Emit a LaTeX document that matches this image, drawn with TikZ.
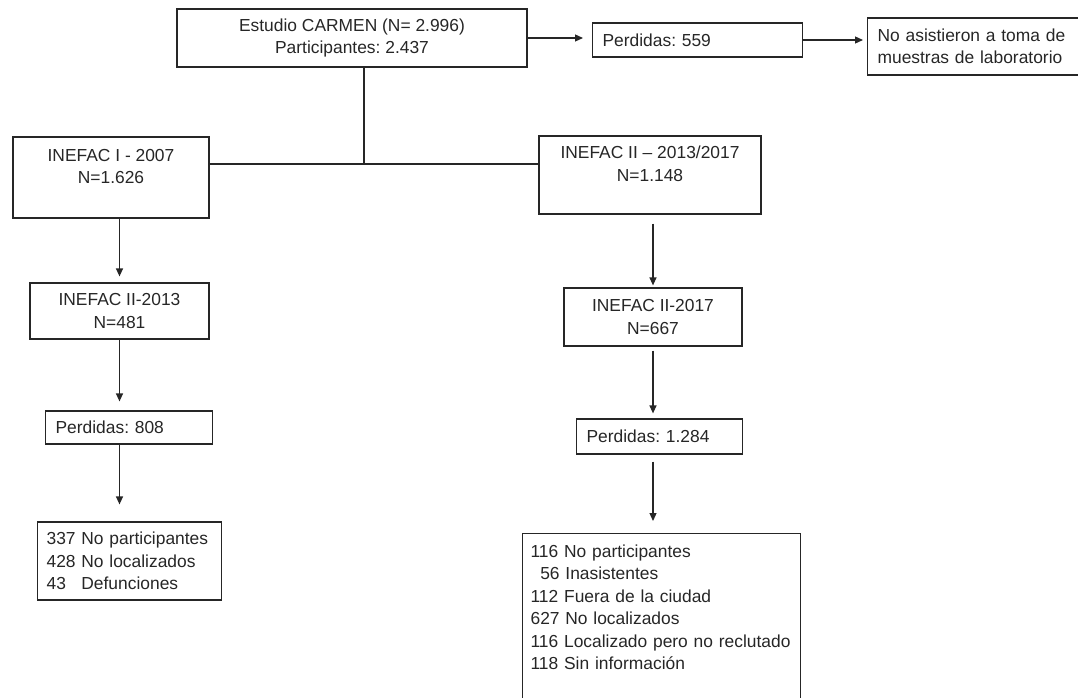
\documentclass[tikz,border=0pt]{standalone}
\usepackage{fontspec}
\setmainfont{Liberation Sans}
\usetikzlibrary{arrows.meta}

\begin{document}
\begin{tikzpicture}[x=1pt, y=-1pt, ->, >={Triangle[length=8pt,width=7pt]},
    line width=1.2pt, color=black!85,
    box/.style={draw, rectangle, inner sep=0pt, align=center,
      font=\fontsize{17.4}{22.5}\selectfont\frenchspacing},
    lbox/.style={box, anchor=west, align=left, inner xsep=10pt}]
  \useasboundingbox (0,0) rectangle (1078,698);
  \clip (0,0) rectangle (1078,698);

  \node[box, minimum width=350pt, minimum height=58pt] (carmen) at (352,38)
    {Estudio CARMEN (N= 2.996)\\Participantes: 2.437};
  \node[lbox, text width=190pt, minimum height=34pt] (perd559) at (592,40) {Perdidas: 559};
  \node[lbox, text width=230pt, minimum height=57pt] (noasis) at (867,46.5)
    {No asistieron a toma de\\muestras de laboratorio};

  \node[box, minimum width=196pt, minimum height=81pt] (inefac1) at (111,177.5)
    {INEFAC I - 2007\\N=1.626\\\mbox{}};
  \node[box, minimum width=222pt, minimum height=78pt] (inefac2) at (650,175)
    {INEFAC II – 2013/2017\\N=1.148\\\mbox{}};

  \node[box, minimum width=179pt, minimum height=56pt] (inef2013) at (119.5,311) {INEFAC II-2013\\N=481};
  \node[box, minimum width=178pt, minimum height=58pt] (inef2017) at (653,317) {INEFAC II-2017\\N=667};

  \node[lbox, text width=147pt, minimum height=33pt] (perd808) at (45,427.5) {Perdidas: 808};
  \node[lbox, text width=146pt, minimum height=35pt] (perd1284) at (576,436.5) {Perdidas: 1.284};

  \node[lbox, text width=166pt, minimum height=78pt, inner xsep=9pt] (causes1) at (37,561)
    {337 No participantes\\428 No localizados\\43\phantom{7} Defunciones};
  \node[lbox, anchor=north west, text width=262pt, inner xsep=8pt, inner ysep=11pt] (causes2) at (522,533)
    {116 No participantes\\\phantom{1}56 Inasistentes\\112 Fuera de la ciudad\\627 No localizados\\
     \mbox{116 Localizado pero no reclutado}\\118 Sin información\\\mbox{}\\\mbox{}};

  % split of the cohort
  \coordinate (jn) at (364,164);
  \draw[-] (carmen.south -| jn) -- (jn);
  \draw[-] (inefac1.east |- jn) -- (inefac2.west |- jn);

  \draw[shorten >=9pt] (carmen.east) -- (carmen.east -| perd559.west);
  \draw[shorten >=4pt] (perd559.east) -- (perd559.east -| noasis.west);

  % left branch
  \draw[shorten >=6pt] (inef2013.north |- inefac1.south) -- (inef2013.north);
  \draw[shorten >=9pt] (inef2013.south) -- (inef2013.south |- perd808.north);
  \draw[shorten >=17pt] (inef2013.south |- perd808.south) -- (inef2013.south |- causes1.north);

  % right branch
  \draw[shorten <=9pt, shorten >=2pt] (inef2017.north |- inefac2.south) -- (inef2017.north);
  \draw[shorten <=4pt, shorten >=5pt] (inef2017.south) -- (inef2017.south |- perd1284.north);
  \draw[shorten <=7pt, shorten >=12pt] (inef2017.south |- perd1284.south) -- (inef2017.south |- causes2.north);
\end{tikzpicture}
\end{document}
